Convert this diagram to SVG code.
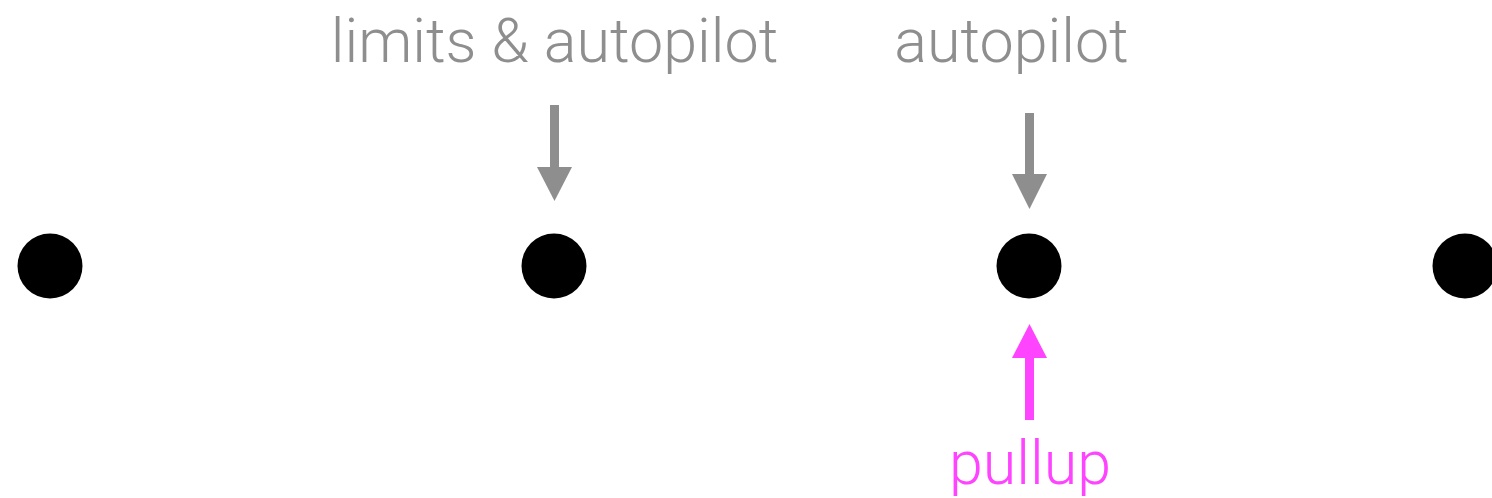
<svg xmlns="http://www.w3.org/2000/svg" width="1492" height="498" viewBox="0 0 1492 498">
<defs>
<style>
.dot{fill:#000}
.lbl{font-family:Roboto,"Liberation Sans",sans-serif;font-weight:300;font-size:61px;text-anchor:middle}
.gray{fill:#8e8e8e}
.pink{fill:#ff44ff}
.gline{stroke:#8e8e8e;stroke-width:9;fill:none}
.pline{stroke:#ff44ff;stroke-width:9;fill:none}
</style>
</defs>
<g id="node1"><circle class="dot" cx="50" cy="266" r="32.5"/></g>
<g id="node2"><circle class="dot" cx="554" cy="266" r="32.5"/></g>
<g id="node3"><circle class="dot" cx="1029" cy="266" r="32.5"/></g>
<g id="node4"><circle class="dot" cx="1465" cy="266" r="32.5"/></g>
<g id="label-limits"><text class="lbl gray" x="554.5" y="62">limits &amp; autopilot</text></g>
<g id="label-autopilot"><text class="lbl gray" x="1011.5" y="62">autopilot</text></g>
<g id="label-pullup"><text class="lbl pink" x="1030" y="484">pullup</text></g>
<g id="connectors">
<line class="gline" x1="554.5" y1="105" x2="554.5" y2="170"/>
<polygon class="gray" points="537,167 572,167 554.5,201"/>
<line class="gline" x1="1029.5" y1="113" x2="1029.5" y2="177"/>
<polygon class="gray" points="1012,174 1047,174 1029.5,209"/>
<line class="pline" x1="1029.5" y1="420" x2="1029.5" y2="355"/>
<polygon class="pink" points="1012,358 1047,358 1029.5,324"/>
</g>
</svg>
